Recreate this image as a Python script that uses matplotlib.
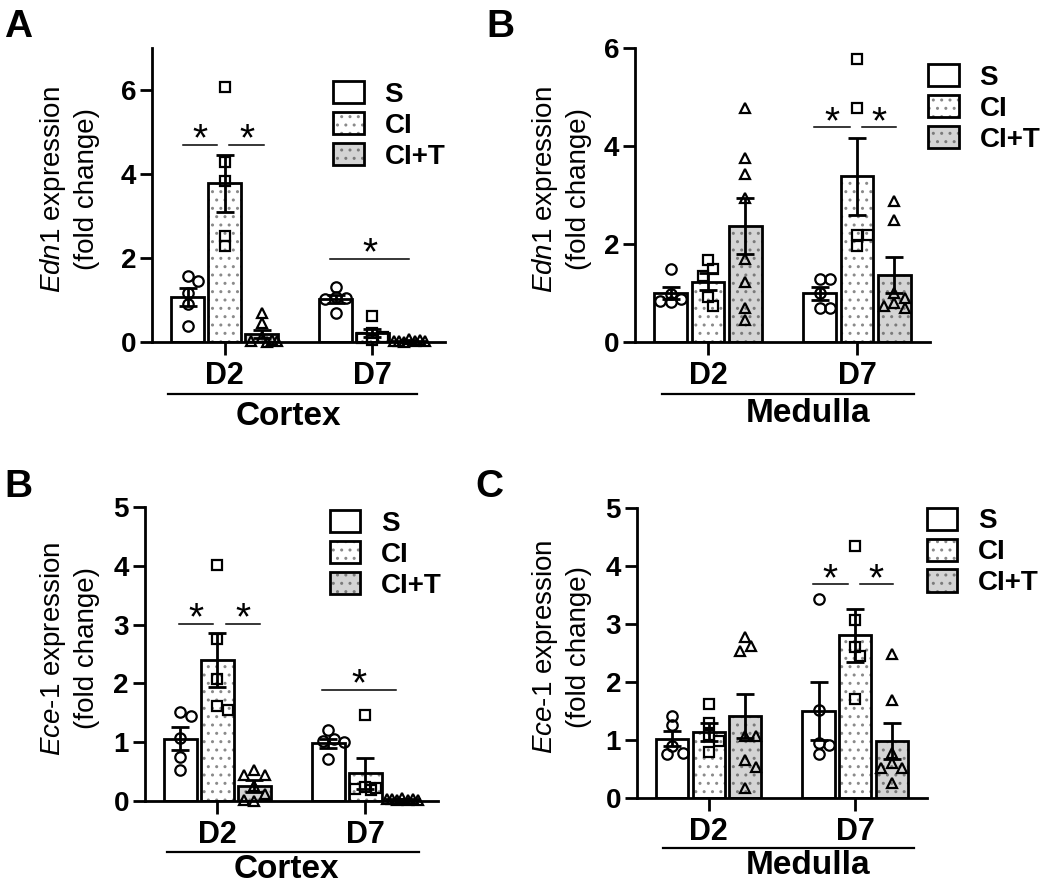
import matplotlib
matplotlib.use('Agg')
import matplotlib.pyplot as plt
from matplotlib.patches import Patch
import matplotlib.transforms as mtrans

plt.rcParams['font.family'] = ['Liberation Sans', 'DejaVu Sans']
plt.rcParams['font.weight'] = 'bold'
plt.rcParams['mathtext.fontset'] = 'custom'
plt.rcParams['mathtext.it'] = 'Liberation Sans:style=italic:weight=normal'
plt.rcParams['mathtext.rm'] = 'Liberation Sans:weight=normal'
plt.rcParams['hatch.linewidth'] = 1.0

groups = ['S', 'CI', 'CI+T']
days = ['D2', 'D7']

# Edn1, cortex  (rows: D2, D7; cols: S, CI, CI+T)
edn1_cx_mean = [[1.07, 3.78, 0.19], [1.03, 0.22, 0.03]]
edn1_cx_sem = [[0.22, 0.68, 0.10], [0.10, 0.10, 0.01]]
edn1_cx_pts = [[[1.57, 1.45, 1.17, 0.90, 0.38],
                [6.08, 4.28, 3.84, 2.52, 2.28],
                [0.69, 0.45, 0.12, 0.05, 0.02, 0.00, 0.03]],
               [[1.31, 1.07, 1.05, 1.02, 0.70],
                [0.63, 0.22, 0.12, 0.10, 0.05],
                [0.06, 0.04, 0.03, 0.02, 0.02, 0.01, 0.03]]]
edn1_cx_sig = [(-0.28, -0.05, 4.7), (0.03, 0.27, 4.7), (0.71, 1.25, 1.98)]

# Edn1, medulla
edn1_md_mean = [[1.00, 1.23, 2.37], [0.99, 3.38, 1.36]]
edn1_md_sem = [[0.13, 0.17, 0.57], [0.13, 0.79, 0.37]]
edn1_md_pts = [[[1.50, 0.97, 0.88, 0.83, 0.82],
                [1.68, 1.49, 1.34, 0.91, 0.74],
                [4.78, 3.76, 3.42, 2.94, 1.69, 1.23, 0.69, 0.45]],
               [[1.28, 1.28, 1.00, 0.69, 0.69],
                [5.77, 4.78, 2.19, 2.19, 1.95],
                [2.87, 2.49, 1.00, 0.90, 0.80, 0.74, 0.69]]]
edn1_md_sig = [(0.71, 0.95, 4.38), (1.03, 1.26, 4.38)]

# Ece-1, cortex
ece1_cx_mean = [[1.06, 2.40, 0.26], [0.98, 0.47, 0.03]]
ece1_cx_sem = [[0.20, 0.46, 0.10], [0.07, 0.26, 0.01]]
ece1_cx_pts = [[[1.52, 1.44, 1.08, 0.75, 0.53],
                [4.01, 2.75, 2.07, 1.62, 1.55],
                [0.52, 0.45, 0.45, 0.25, 0.12, 0.00, 0.02]],
               [[1.20, 1.06, 1.02, 1.00, 0.72],
                [1.47, 0.24, 0.22, 0.21, 0.19],
                [0.05, 0.04, 0.03, 0.02, 0.02, 0.01, 0.03]]]
ece1_cx_sig = [(-0.26, -0.03, 3.02), (0.06, 0.29, 3.02), (0.71, 1.21, 1.89)]

# Ece-1, medulla
ece1_md_mean = [[1.02, 1.14, 1.42], [1.50, 2.80, 0.98]]
ece1_md_sem = [[0.13, 0.15, 0.38], [0.50, 0.45, 0.31]]
ece1_md_pts = [[[1.42, 1.25, 0.90, 0.78, 0.75],
                [1.62, 1.29, 1.09, 0.98, 0.79],
                [2.77, 2.62, 2.53, 1.06, 1.06, 0.65, 0.53, 0.17]],
               [[3.43, 1.51, 0.95, 0.92, 0.75],
                [4.34, 3.06, 2.60, 2.45, 1.71],
                [2.48, 1.68, 0.78, 0.61, 0.52, 0.52, 0.26]]]
ece1_md_sig = [(0.71, 0.95, 3.68), (1.03, 1.26, 3.68)]

offs = [-0.25, 0.0, 0.25]
width = 0.22
faces = ['white', 'white', '#d4d4d4']
dotcol = ['white', '#8a8a8a', '#7a7a7a']
hatches = [None, '..', '..']
markers = ['o', 's', '^']


def swarm_x(ax, xc, vals, d=10.5, maxoff=17):
    # spread points sideways so they overlap less, staying inside the bar
    tr = ax.transData
    x0 = tr.transform((xc, 0))[0]
    ppx = tr.transform((xc + 1, 0))[0] - x0
    cands = [0.0]
    i = 1
    while i * d * 0.5 <= maxoff:
        cands += [i * d * 0.5, -i * d * 0.5]
        i += 1
    placed = []
    xs = []
    for v in vals:
        y = tr.transform((xc, v))[1]
        best, bestd = 0.0, -1
        for c in cands:
            md = min([((c - px) ** 2 + (y - py) ** 2) ** 0.5
                      for px, py in placed] or [1e9])
            if md >= 0.9 * d:
                best = c
                break
            if md > bestd:
                best, bestd = c, md
        placed.append((best, y))
        xs.append(xc + best / ppx)
    return xs


def panel(rect, means, sems, pts, ymax, ystep, ylab, region, sig,
          leg_xy, ylab_x, brk, txt):
    ax = fig.add_axes(rect)
    ax.set_xlim(-0.49, 1.49)
    ax.set_ylim(0, ymax)
    ax.set_yticks(range(0, int(ymax) + 1 if ystep == 1 else 7, ystep))
    for s in ['top', 'right']:
        ax.spines[s].set_visible(False)
    for s in ['left', 'bottom']:
        ax.spines[s].set_linewidth(2)
    ax.tick_params(axis='y', length=8.5, width=2, labelsize=20, pad=3)
    ax.tick_params(axis='x', length=9, width=2, labelsize=22, pad=5)
    ax.set_xticks([0, 1])
    ax.set_xticklabels(days)

    for d in range(2):
        for j in range(3):
            x = d + offs[j]
            ax.bar(x, means[d][j], width, color=faces[j], edgecolor=dotcol[j],
                   hatch=hatches[j], linewidth=0, zorder=2)
            ax.bar(x, means[d][j], width, fill=False, edgecolor='k',
                   linewidth=2, zorder=3)
    for d in range(2):
        for j in range(3):
            x = d + offs[j]
            xs = swarm_x(ax, x, pts[d][j])
            ax.plot(xs, pts[d][j], ls='none', marker=markers[j], ms=7.5,
                    mfc='none', mec='k', mew=1.6, zorder=4, clip_on=False)
            ax.errorbar(x, means[d][j], yerr=sems[d][j], fmt='none',
                        ecolor='k', elinewidth=2, capsize=6.5, capthick=2,
                        zorder=5)

    for x1, x2, y in sig:
        ax.plot([x1, x2], [y, y], color='k', lw=1.1, zorder=6)
        ax.annotate('*', ((x1 + x2) / 2, y), xytext=(0, -4),
                    textcoords='offset points', ha='center', va='baseline',
                    fontsize=28, fontweight='normal')

    ax.set_ylabel(ylab, fontsize=20, fontweight='normal', linespacing=1.3)
    ax.yaxis.set_label_coords(ylab_x, 0.52)

    trans = mtrans.blended_transform_factory(ax.transData, ax.transAxes)
    ax.plot([brk[0], brk[1]], [brk[2], brk[2]], color='k', lw=1.6,
            transform=trans, clip_on=False)
    ax.text(txt[0], txt[1], region, transform=trans, ha='center',
            va='center', fontsize=24, fontweight='bold')

    handles = []
    for j in range(3):
        handles.append((Patch(facecolor=faces[j], edgecolor=dotcol[j],
                              hatch=hatches[j], linewidth=0),
                        Patch(fill=False, edgecolor='k', linewidth=2)))
    ax.legend(handles, groups, loc='upper left', bbox_to_anchor=leg_xy,
              frameon=False, fontsize=20, handlelength=1.1,
              handleheight=0.85, labelspacing=0.15, handletextpad=0.75,
              borderpad=0, borderaxespad=0)
    return ax


fig = plt.figure(figsize=(10.5, 8.85), dpi=100)

panel([0.1448, 0.6136, 0.279, 0.332], edn1_cx_mean, edn1_cx_sem, edn1_cx_pts,
      7, 2, '$\\mathit{Edn1}$ expression\n(fold change)', 'Cortex',
      edn1_cx_sig, (0.618, 0.887), -0.177, (-0.38, 1.30, -0.177),
      (0.43, -0.252))
panel([0.6048, 0.6136, 0.281, 0.332], edn1_md_mean, edn1_md_sem, edn1_md_pts,
      6, 2, '$\\mathit{Edn1}$ expression\n(fold change)', 'Medulla',
      edn1_md_sig, (0.993, 0.945), -0.146, (-0.31, 1.38, -0.177),
      (0.67, -0.245))
panel([0.138, 0.0949, 0.279, 0.332], ece1_cx_mean, ece1_cx_sem, ece1_cx_pts,
      5, 1, '$\\mathit{Ece}$-$\\mathit{1}$ expression\n(fold change)', 'Cortex',
      ece1_cx_sig, (0.631, 0.99), -0.154, (-0.34, 1.36, -0.173),
      (0.47, -0.232))
panel([0.6067, 0.0983, 0.276, 0.328], ece1_md_mean, ece1_md_sem, ece1_md_pts,
      5, 1, '$\\mathit{Ece}$-$\\mathit{1}$ expression\n(fold change)', 'Medulla',
      ece1_md_sig, (1.0, 1.0), -0.155, (-0.31, 1.40, -0.172),
      (0.68, -0.232))

for lbl, x, y in [('A', 0.004, 0.990), ('B', 0.463, 0.990),
                  ('B', 0.004, 0.470), ('C', 0.453, 0.470)]:
    fig.text(x, y, lbl, fontsize=28, fontweight='bold', va='top', ha='left')

fig.savefig('out.png', dpi=100)
